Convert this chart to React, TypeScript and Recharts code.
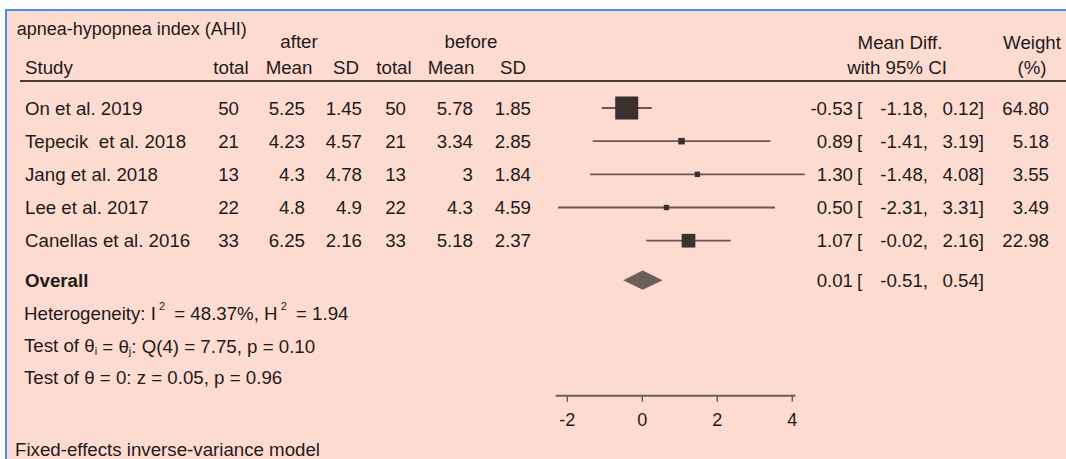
import React from 'react';
import {
  ComposedChart,
  Scatter,
  ErrorBar,
  XAxis,
  YAxis,
  Area,
  ReferenceLine,
  Customized,
} from 'recharts';

// ---------------- data ----------------
const studies = [
  'On et al. 2019',
  'Tepecik  et al. 2018',
  'Jang et al. 2018',
  'Lee et al. 2017',
  'Canellas et al. 2016',
];
const afterTotal = [50, 21, 13, 22, 33];
const afterMean = [5.25, 4.23, 4.3, 4.8, 6.25];
const afterSD = [1.45, 4.57, 4.78, 4.9, 2.16];
const beforeTotal = [50, 21, 13, 22, 33];
const beforeMean = [5.78, 3.34, 3, 4.3, 5.18];
const beforeSD = [1.85, 2.85, 1.84, 4.59, 2.37];
const meanDiff = [-0.53, 0.89, 1.3, 0.5, 1.07];
const ciLow = [-1.18, -1.41, -1.48, -2.31, -0.02];
const ciHigh = [0.12, 3.19, 4.08, 3.31, 2.16];
const weights = [64.8, 5.18, 3.55, 3.49, 22.98];

const overallEst = 0.01;
const overallLow = -0.51;
const overallHigh = 0.54;

const xTicks = [-2, 0, 2, 4];

// ---------------- layout / style ----------------
const W = 1066;
const H = 459;
const FONT = "'Liberation Sans', Arial, Helvetica, sans-serif";
const FS = 18.7;
const TEXT = '#1f1a19';
const MARK = '#3b302e';
const CI_LINE = '#6a5752';
const DIAMOND = '#6c5f59';
const AXIS = '#6a5c57';
const PINK = '#fddbd0';
const BLUE = '#4c8bf2';

const OVERALL_ROW = 5.19;
const DIAMOND_HALF = 0.29;
const Y_MIN = -3;
const Y_MAX = 8.673;
const SQ_K = 2.86;

// visible axis domain and hidden (study marks) axis domain
const VIS_DOMAIN: [number, number] = [-2.728, 4.739];
const ST_DOMAIN: [number, number] = [-2.777, 4.477];

// column anchors (text layout)
const COL = {
  name: 25,
  n1: 239,
  m1: 305,
  sd1: 362,
  n2: 406,
  m2: 473,
  sd2: 531,
  est: 853,
  bracket: 857,
  low: 928,
  high: 984,
  weight: 1049,
};

// ---------------- tables built from arrays ----------------
const studyRows = studies.map((name, i) => ({
  name,
  row: i,
  est: meanDiff[i],
  err: [meanDiff[i] - ciLow[i], ciHigh[i] - meanDiff[i]],
  lo: ciLow[i],
  hi: ciHigh[i],
  weight: weights[i],
  n1: afterTotal[i],
  m1: afterMean[i],
  sd1: afterSD[i],
  n2: beforeTotal[i],
  m2: beforeMean[i],
  sd2: beforeSD[i],
}));

const overallRow = [
  { row: OVERALL_ROW, est: overallEst, lo: overallLow, hi: overallHigh },
];

const diamondData = [
  { dx: overallLow, band: [OVERALL_ROW, OVERALL_ROW] },
  { dx: overallEst, band: [OVERALL_ROW - DIAMOND_HALF, OVERALL_ROW + DIAMOND_HALF] },
  { dx: overallHigh, band: [OVERALL_ROW, OVERALL_ROW] },
];

const axisStart = Math.min(...ciLow);
const axisEnd = Math.max(...ciHigh);

const f2 = (v: number) => v.toFixed(2);

// ---------------- shapes ----------------
const SquareShape = (props: any) => {
  const { cx, cy, payload } = props;
  if (cx == null || cy == null) return null;
  const s = SQ_K * Math.sqrt(payload.weight);
  return <rect x={cx - s / 2} y={cy - s / 2} width={s} height={s} fill={MARK} />;
};

const T = (p: any) => (
  <text
    dominantBaseline="central"
    fontFamily={FONT}
    fontSize={FS}
    fill={TEXT}
    style={{ whiteSpace: 'pre' }}
    {...p}
  />
);

const CiText = ({ cy, est, lo, hi }: any) => (
  <g>
    <T x={COL.est} y={cy} textAnchor="end">{f2(est)}</T>
    <T x={COL.bracket} y={cy}>[</T>
    <T x={COL.low} y={cy} textAnchor="end">{f2(lo) + ','}</T>
    <T x={COL.high} y={cy} textAnchor="end">{f2(hi) + ']'}</T>
  </g>
);

const RowTextShape = (props: any) => {
  const { cy, payload } = props;
  if (cy == null) return null;
  return (
    <g>
      <T x={COL.name} y={cy}>{payload.name}</T>
      <T x={COL.n1} y={cy} textAnchor="end">{String(payload.n1)}</T>
      <T x={COL.m1} y={cy} textAnchor="end">{String(payload.m1)}</T>
      <T x={COL.sd1} y={cy} textAnchor="end">{String(payload.sd1)}</T>
      <T x={COL.n2} y={cy} textAnchor="end">{String(payload.n2)}</T>
      <T x={COL.m2} y={cy} textAnchor="end">{String(payload.m2)}</T>
      <T x={COL.sd2} y={cy} textAnchor="end">{String(payload.sd2)}</T>
      <CiText cy={cy} est={payload.est} lo={payload.lo} hi={payload.hi} />
      <T x={COL.weight} y={cy} textAnchor="end">{f2(payload.weight)}</T>
    </g>
  );
};

const OverallTextShape = (props: any) => {
  const { cy, payload } = props;
  if (cy == null) return null;
  return (
    <g>
      <T x={COL.name} y={cy} fontWeight="bold">Overall</T>
      <CiText cy={cy} est={payload.est} lo={payload.lo} hi={payload.hi} />
    </g>
  );
};

const StaticText = () => (
  <g>
    <T x={16.7} y={29} fontSize={18}>apnea-hypopnea index (AHI)</T>
    <T x={299} y={41} textAnchor="middle">after</T>
    <T x={471} y={41} textAnchor="middle">before</T>
    <T x={900} y={42} textAnchor="middle">Mean Diff.</T>
    <T x={1032} y={42} textAnchor="middle">Weight</T>

    <T x={25} y={67}>Study</T>
    <T x={231} y={67} textAnchor="middle">total</T>
    <T x={289} y={67} textAnchor="middle">Mean</T>
    <T x={346} y={67} textAnchor="middle">SD</T>
    <T x={394} y={67} textAnchor="middle">total</T>
    <T x={451} y={67} textAnchor="middle">Mean</T>
    <T x={513} y={67} textAnchor="middle">SD</T>
    <T x={897} y={67} textAnchor="middle">with 95% CI</T>
    <T x={1032} y={67} textAnchor="middle">(%)</T>

    <line x1={20} x2={W} y1={81} y2={81} stroke="#4a3b37" strokeWidth={2} />

    <T x={24} y={313}>
      Heterogeneity: I<tspan dx={3} dy={-7} fontSize={11}>2</tspan>
      <tspan dx={4} dy={7}> = 48.37%, H</tspan>
      <tspan dx={3} dy={-7} fontSize={11}>2</tspan>
      <tspan dx={4} dy={7}> = 1.94</tspan>
    </T>
    <T x={24} y={345.5}>
      Test of θ<tspan dy={5} fontSize={11}>i</tspan>
      <tspan dy={-5}> = θ</tspan>
      <tspan dy={5} fontSize={11}>j</tspan>
      <tspan dy={-5}>: Q(4) = 7.75, p = 0.10</tspan>
    </T>
    <T x={24} y={377}>Test of θ = 0: z = 0.05, p = 0.96</T>
    <T x={15} y={449}>Fixed-effects inverse-variance model</T>
  </g>
);

export default function App() {
  return (
    <div style={{ position: 'absolute', left: 0, top: 0, width: W, height: H, background: '#ffffff', overflow: 'hidden' }}>
      <div style={{ position: 'absolute', left: 7, top: 11, width: W - 7, height: H - 11, background: PINK }} />
      <div style={{ position: 'absolute', left: 5, top: 9, width: W - 5, height: 2, background: BLUE }} />
      <div style={{ position: 'absolute', left: 5, top: 9, width: 2, height: H - 9, background: BLUE }} />
      <div style={{ position: 'absolute', left: 0, top: 0 }}>
        <ComposedChart
          width={W}
          height={H}
          margin={{ top: 8.49, right: 246, bottom: 23.3, left: 540 }}
        >
          <XAxis
            xAxisId="st"
            type="number"
            dataKey="est"
            domain={ST_DOMAIN}
            orientation="top"
            height={0}
            hide
          />
          <XAxis
            xAxisId="vis"
            type="number"
            dataKey="dx"
            domain={VIS_DOMAIN}
            ticks={xTicks}
            interval={0}
            axisLine={false}
            tickLine={{ stroke: AXIS, strokeWidth: 1.5 }}
            tickSize={6}
            tickMargin={12}
            height={40}
            tick={{ fill: TEXT, fontSize: 18, fontFamily: FONT }}
          />
          <YAxis type="number" dataKey="row" domain={[Y_MIN, Y_MAX]} reversed hide width={0} />

          <ReferenceLine
            xAxisId="vis"
            ifOverflow="visible"
            segment={[
              { x: axisStart, y: Y_MAX },
              { x: axisEnd, y: Y_MAX },
            ]}
            stroke={AXIS}
            strokeWidth={2}
          />

          <Area
            xAxisId="vis"
            data={diamondData}
            dataKey="band"
            type="linear"
            stroke="none"
            fill={DIAMOND}
            fillOpacity={1}
            dot={false}
            activeDot={false}
            isAnimationActive={false}
          />

          <Scatter
            xAxisId="st"
            data={studyRows}
            shape={SquareShape}
            isAnimationActive={false}
          >
            <ErrorBar
              dataKey="err"
              direction="x"
              width={0}
              stroke={CI_LINE}
              strokeWidth={1.8}
              isAnimationActive={false}
            />
          </Scatter>

          <Scatter
            xAxisId="st"
            data={studyRows}
            shape={RowTextShape}
            isAnimationActive={false}
          />
          <Scatter
            xAxisId="st"
            data={overallRow}
            shape={OverallTextShape}
            isAnimationActive={false}
          />

          <Customized component={StaticText} />
        </ComposedChart>
      </div>
    </div>
  );
}
